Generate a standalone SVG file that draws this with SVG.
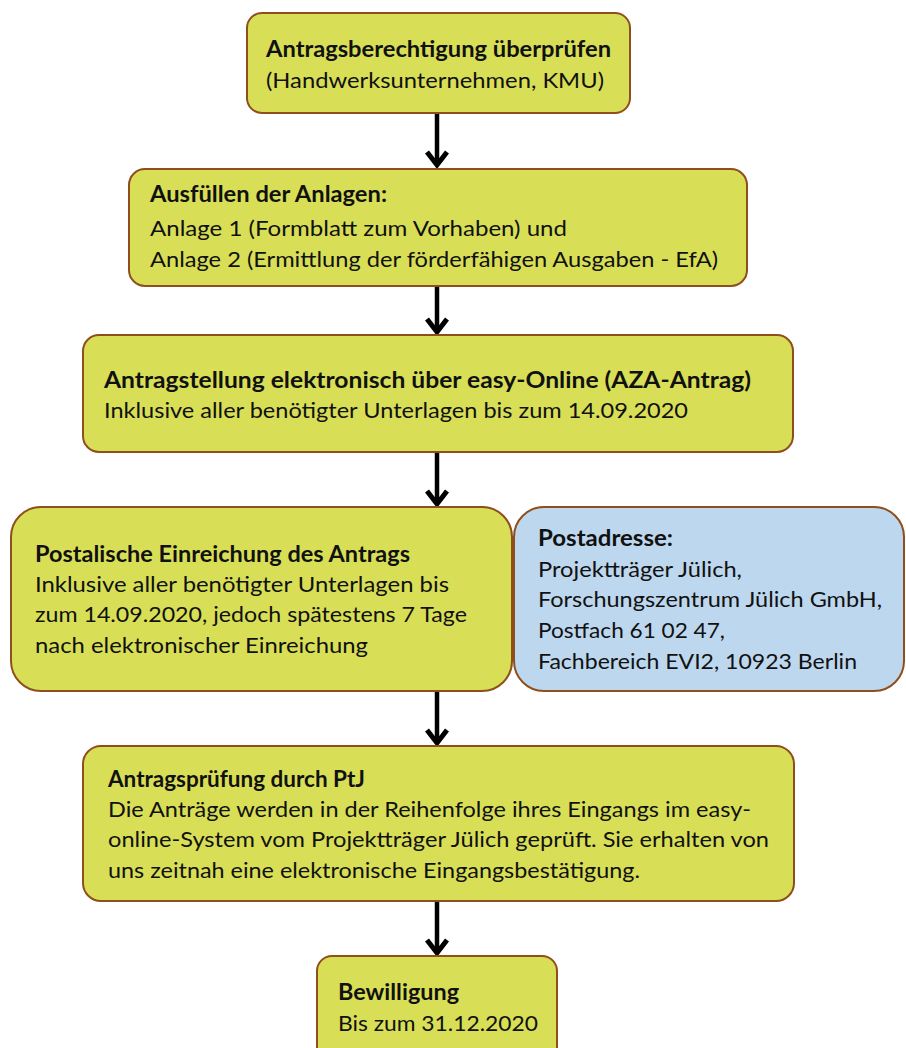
<svg xmlns="http://www.w3.org/2000/svg" width="906" height="1048" viewBox="0 0 906 1048">
<style>
.box{fill:#d8df57;stroke:#8e4f1c;stroke-width:2}
.blue{fill:#bdd7ee;stroke:#8e4f1c;stroke-width:2}
text{font-family:Lato,"Open Sans","Liberation Sans",sans-serif;font-size:22px;fill:#111}
.b{font-weight:bold}
.arr{stroke:#000;stroke-width:4.5;fill:none}
.head{stroke:#000;stroke-width:5;fill:none;stroke-linejoin:miter;stroke-linecap:butt}
</style>
<rect width="906" height="1048" fill="#fff"/>
<g id="connectors">
<line class="arr" x1="437" y1="114" x2="437" y2="164"/>
<polyline class="head" points="427,152 437,165 447,152"/>
<line class="arr" x1="437" y1="287" x2="437" y2="331"/>
<polyline class="head" points="427,319 437,332 447,319"/>
<line class="arr" x1="437" y1="453" x2="437" y2="503"/>
<polyline class="head" points="427,491 437,504 447,491"/>
<line class="arr" x1="437" y1="692" x2="437" y2="742"/>
<polyline class="head" points="427,730 437,743 447,730"/>
<line class="arr" x1="437" y1="901" x2="437" y2="952"/>
<polyline class="head" points="427,940 437,953 447,940"/>
</g>
<g id="n1">
<rect class="box" x="247" y="13" width="383" height="100" rx="15"/>
<text class="b" x="266" y="57" textLength="345" lengthAdjust="spacingAndGlyphs">Antragsberechtigung überprüfen</text>
<text x="266" y="88" textLength="338" lengthAdjust="spacingAndGlyphs">(Handwerksunternehmen, KMU)</text>
</g>
<g id="n2">
<rect class="box" x="129" y="169" width="618" height="117" rx="16"/>
<text class="b" x="150" y="202" textLength="237" lengthAdjust="spacingAndGlyphs">Ausfüllen der Anlagen:</text>
<text x="150" y="236" textLength="417" lengthAdjust="spacingAndGlyphs">Anlage 1 (Formblatt zum Vorhaben) und</text>
<text x="150" y="267" textLength="568" lengthAdjust="spacingAndGlyphs">Anlage 2 (Ermittlung der förderfähigen Ausgaben - EfA)</text>
</g>
<g id="n3">
<rect class="box" x="83" y="335" width="710" height="117" rx="16"/>
<text class="b" x="104" y="388" textLength="647" lengthAdjust="spacingAndGlyphs">Antragstellung elektronisch über easy-Online (AZA-Antrag)</text>
<text x="104" y="418" textLength="584" lengthAdjust="spacingAndGlyphs">Inklusive aller benötigter Unterlagen bis zum 14.09.2020</text>
</g>
<g id="n4">
<rect class="box" x="11" y="507" width="501" height="184" rx="30"/>
<text class="b" x="35" y="562" textLength="375" lengthAdjust="spacingAndGlyphs">Postalische Einreichung des Antrags</text>
<text x="35" y="592" textLength="414" lengthAdjust="spacingAndGlyphs">Inklusive aller benötigter Unterlagen bis</text>
<text x="35" y="622" textLength="432" lengthAdjust="spacingAndGlyphs">zum 14.09.2020, jedoch spätestens 7 Tage</text>
<text x="35" y="653" textLength="333" lengthAdjust="spacingAndGlyphs">nach elektronischer Einreichung</text>
</g>
<g id="n5">
<rect class="blue" x="514" y="507" width="390" height="184" rx="30"/>
<text class="b" x="538" y="546" textLength="135" lengthAdjust="spacingAndGlyphs">Postadresse:</text>
<text x="538" y="577" textLength="204" lengthAdjust="spacingAndGlyphs">Projektträger Jülich,</text>
<text x="538" y="607" textLength="344" lengthAdjust="spacingAndGlyphs">Forschungszentrum Jülich GmbH,</text>
<text x="538" y="638" textLength="187" lengthAdjust="spacingAndGlyphs">Postfach 61 02 47,</text>
<text x="538" y="669" textLength="319" lengthAdjust="spacingAndGlyphs">Fachbereich EVI2, 10923 Berlin</text>
</g>
<g id="n6">
<rect class="box" x="83" y="746" width="711" height="155" rx="18"/>
<text class="b" x="108" y="787" textLength="257" lengthAdjust="spacingAndGlyphs">Antragsprüfung durch PtJ</text>
<text x="108" y="817" textLength="643" lengthAdjust="spacingAndGlyphs">Die Anträge werden in der Reihenfolge ihres Eingangs im easy-</text>
<text x="108" y="847" textLength="661" lengthAdjust="spacingAndGlyphs">online-System vom Projektträger Jülich geprüft. Sie erhalten von</text>
<text x="108" y="878" textLength="532" lengthAdjust="spacingAndGlyphs">uns zeitnah eine elektronische Eingangsbestätigung.</text>
</g>
<g id="n7">
<rect class="box" x="317" y="956" width="240" height="110" rx="15"/>
<text class="b" x="338" y="1000" textLength="121" lengthAdjust="spacingAndGlyphs">Bewilligung</text>
<text x="338" y="1031" textLength="200" lengthAdjust="spacingAndGlyphs">Bis zum 31.12.2020</text>
</g>
</svg>
